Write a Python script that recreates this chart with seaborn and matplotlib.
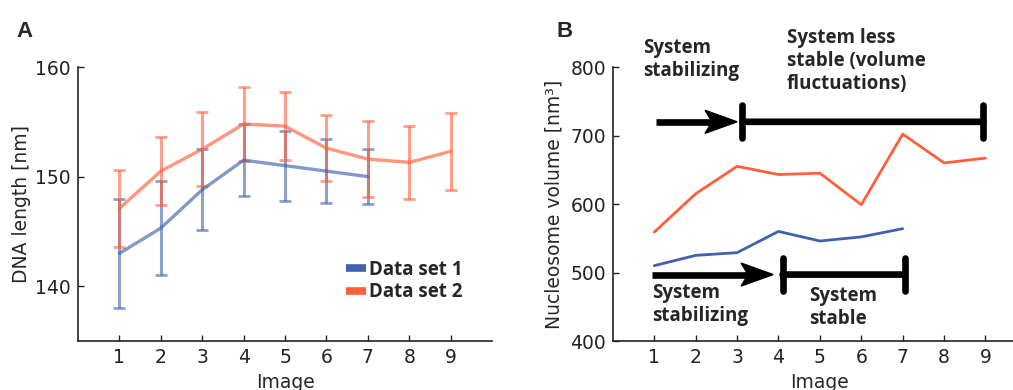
import numpy as np
import pandas as pd
import matplotlib
matplotlib.use("Agg")
import matplotlib.pyplot as plt
import matplotlib.transforms as mtransforms
from matplotlib.patches import Polygon
from matplotlib.lines import Line2D
import seaborn as sns

# panel A: DNA length per image (mean +/- error)
images = [1, 2, 3, 4, 5, 6, 7, 8, 9]
dna_set1 = [143.0, 145.3, 148.8, 151.5, 151.0, 150.5, 150.0]
dna_set1_err = [5.0, 4.3, 3.7, 3.3, 3.2, 2.9, 2.5]
dna_set2 = [147.1, 150.5, 152.5, 154.8, 154.6, 152.6, 151.6, 151.3, 152.3]
dna_set2_err = [3.5, 3.1, 3.4, 3.4, 3.1, 3.0, 3.5, 3.3, 3.5]

# panel B: nucleosome volume per image
vol_set1 = [510, 525, 529, 560, 546, 552, 564]
vol_set2 = [559, 615, 655, 643, 645, 599, 702, 660, 667]

labels = ["Data set 1", "Data set 2"]
blue = "#4062ae"
red = "#ff5f3a"

sns.set_style("ticks")
plt.rcParams["font.family"] = ["DejaVu Sans"]
plt.rcParams["axes.linewidth"] = 1.2
plt.rcParams["xtick.direction"] = "in"
plt.rcParams["ytick.direction"] = "in"
plt.rcParams["xtick.major.size"] = 4
plt.rcParams["ytick.major.size"] = 4

bold = dict(family="Open Sans", weight="bold", size=13.5)
plain = dict(family="DejaVu Sans", size=13.5)

fig = plt.figure(figsize=(10.13, 3.9), dpi=100)
axA = fig.add_axes([0.077, 0.1256, 0.4087, 0.7026])
axB = fig.add_axes([0.605, 0.1256, 0.4087, 0.7026])

# ---- panel A
dfA1 = pd.DataFrame({"Image": images[:len(dna_set1)], "len": dna_set1})
dfA2 = pd.DataFrame({"Image": images, "len": dna_set2})
axA.errorbar(dfA1["Image"], dfA1["len"], yerr=dna_set1_err, fmt="none",
             ecolor=blue, alpha=0.6, elinewidth=2.2, capsize=4, capthick=2)
axA.errorbar(dfA2["Image"], dfA2["len"], yerr=dna_set2_err, fmt="none",
             ecolor=red, alpha=0.6, elinewidth=2.2, capsize=4, capthick=2)
sns.lineplot(data=dfA1, x="Image", y="len", ax=axA, color=blue, alpha=0.65, lw=2.4)
sns.lineplot(data=dfA2, x="Image", y="len", ax=axA, color=red, alpha=0.65, lw=2.4)
axA.set_xlim(0, 10)
axA.set_ylim(135, 160)
axA.set_yticks([140, 150, 160])
axA.set_ylabel("DNA length [nm]", labelpad=3, **plain)

handles = [Line2D([], [], color=blue, lw=5.5, solid_capstyle="butt"),
           Line2D([], [], color=red, lw=5.5, solid_capstyle="butt")]
axA.legend(handles, labels, loc="lower right", bbox_to_anchor=(0.955, 0.1),
           frameon=False, prop=bold, handlelength=1.1, handletextpad=0.12,
           labelspacing=0.15, borderaxespad=0.2)

# ---- panel B
dfB1 = pd.DataFrame({"Image": images[:len(vol_set1)], "vol": vol_set1})
dfB2 = pd.DataFrame({"Image": images, "vol": vol_set2})
sns.lineplot(data=dfB1, x="Image", y="vol", ax=axB, color=blue, lw=2)
sns.lineplot(data=dfB2, x="Image", y="vol", ax=axB, color=red, lw=2)
axB.set_xlim(0, 10)
axB.set_ylim(400, 800)
axB.set_yticks([400, 500, 600, 700, 800])
axB.set_ylabel("Nucleosome volume [nm³]", labelpad=5, **plain)


def arrow(ax, x0, x1, y):
    # shaft ending at the notch, then a stealth-shaped head drawn in inches
    head_len, half_h, notch = 0.32, 0.115, 0.25
    tip = ax.transData.transform((x1, y))
    back = ax.transData.inverted().transform((tip[0] - notch * fig.dpi, tip[1]))
    ax.plot([x0, back[0]], [y, y], color="black", lw=4.8, solid_capstyle="butt",
            clip_on=False)
    trans = fig.dpi_scale_trans + mtransforms.ScaledTranslation(x1, y, ax.transData)
    head = Polygon([(0, 0), (-head_len, half_h), (-notch, 0), (-head_len, -half_h)],
                   closed=True, color="black", transform=trans, clip_on=False)
    ax.add_patch(head)


def span(ax, x0, x1, y):
    ax.annotate("", xy=(x1, y), xytext=(x0, y), annotation_clip=False,
                arrowprops=dict(arrowstyle="|-|,widthA=0.6,widthB=0.6", lw=4.8,
                                color="black", mutation_scale=20,
                                shrinkA=0, shrinkB=0))


arrow(axB, 1.03, 3.0, 720)
span(axB, 3.13, 8.95, 720)
arrow(axB, 0.95, 3.87, 497)
span(axB, 4.1, 7.06, 497)

axB.text(0.72, 842, "System\nstabilizing", va="top", ha="left", clip_on=False,
         linespacing=1.2, **bold)
axB.text(4.2, 857, "System less\nstable (volume\nfluctuations)", va="top", ha="left",
         clip_on=False, linespacing=1.2, **bold)
axB.text(0.96, 485, "System\nstabilizing", va="top", ha="left", linespacing=1.2, **bold)
axB.text(4.73, 481, "System\nstable", va="top", ha="left", linespacing=1.2, **bold)

for ax in (axA, axB):
    ax.set_xticks(images)
    ax.tick_params(labelsize=13.5, width=1, pad=5, colors="#222222",
                   labelfontfamily="DejaVu Sans")
    ax.set_xlabel("Image", labelpad=4.5, **plain)
    sns.despine(ax=ax)
    ax.spines["left"].set_color("#222222")
    ax.spines["bottom"].set_color("#222222")

fig.text(0.016, 0.905, "A", family="Liberation Sans", weight="bold", size=16)
fig.text(0.549, 0.905, "B", family="Liberation Sans", weight="bold", size=16)

fig.savefig("out.png", dpi=100)
